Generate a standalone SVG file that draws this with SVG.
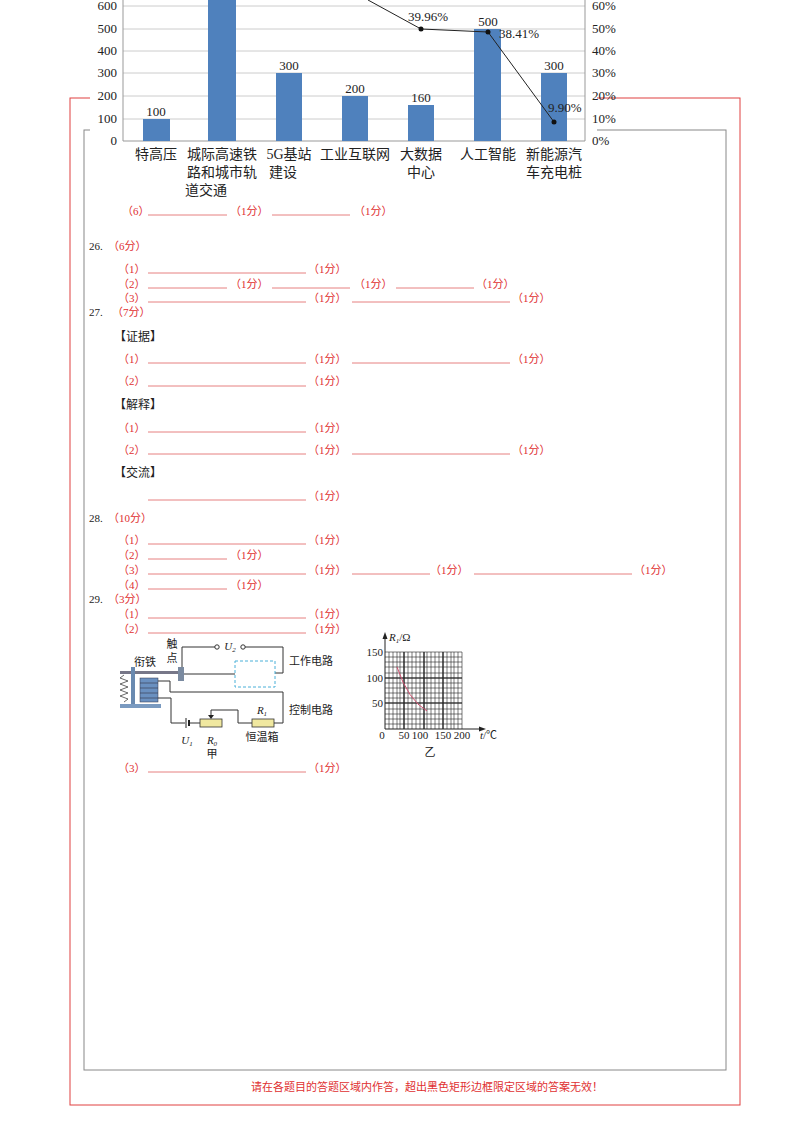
<svg xmlns="http://www.w3.org/2000/svg" width="800" height="1132" viewBox="0 0 800 1132">
<style>
text{font-family:"Liberation Serif","Noto Sans CJK SC",serif;}
.r{fill:#e03030;font-size:11px;}
.k{fill:#222;font-size:11px;}
.b{stroke:#e06060;stroke-width:0.8;}
.ax{font-family:"Liberation Serif","Noto Sans CJK SC",serif;font-size:13px;fill:#222;}
.cat{font-family:"Noto Sans CJK SC",sans-serif;font-size:14px;fill:#222;}
.bar{fill:#4f81bd;}
.w{stroke:#333;stroke-width:1;fill:none;}
.c{font-size:11px;fill:#222;}
</style>
<rect width="800" height="1132" fill="#fff"/>
<g id="frames">
<rect x="70" y="98" width="670" height="1007" fill="none" stroke="#e04040" stroke-width="1"/>
<rect x="84" y="130" width="642" height="940" fill="none" stroke="#888" stroke-width="1"/>
</g>
<g id="chart">
<rect x="90" y="0" width="507" height="200" fill="#fff"/>
<g stroke="#ccc" stroke-width="1">
<line x1="123" y1="6" x2="585" y2="6"/><line x1="123" y1="29" x2="585" y2="29"/><line x1="123" y1="51" x2="585" y2="51"/><line x1="123" y1="73" x2="585" y2="73"/><line x1="123" y1="96" x2="585" y2="96"/><line x1="123" y1="119" x2="585" y2="119"/>
</g>
<line x1="123" y1="0" x2="123" y2="141" stroke="#999"/><line x1="585" y1="0" x2="585" y2="141" stroke="#999"/><line x1="123" y1="141" x2="585" y2="141" stroke="#999"/>
<g class="ax" text-anchor="end">
<text x="117" y="10">600</text><text x="117" y="33">500</text><text x="117" y="55">400</text><text x="117" y="77">300</text><text x="117" y="100">200</text><text x="117" y="123">100</text><text x="117" y="145">0</text>
</g>
<g class="ax">
<text x="592" y="10">60%</text><text x="592" y="33">50%</text><text x="592" y="55">40%</text><text x="592" y="77">30%</text><text x="592" y="100">20%</text><text x="592" y="123">10%</text><text x="592" y="145">0%</text>
</g>
<rect class="bar" x="143" y="119" width="27" height="22"/>
<rect class="bar" x="208" y="0" width="28" height="141"/>
<rect class="bar" x="276" y="73" width="26" height="68"/>
<rect class="bar" x="342" y="96" width="26" height="45"/>
<rect class="bar" x="408" y="105" width="26" height="36"/>
<rect class="bar" x="474" y="29" width="27" height="112"/>
<rect class="bar" x="541" y="73" width="26" height="68"/>
<g class="ax" text-anchor="middle">
<text x="156" y="116">100</text><text x="289" y="70">300</text><text x="355" y="93">200</text><text x="421" y="102">160</text><text x="488" y="26">500</text><text x="554" y="70">300</text>
</g>
<polyline points="368,0 421,29 488,32 554,122" fill="none" stroke="#222" stroke-width="1"/>
<circle cx="421" cy="29" r="2.5" fill="#111"/><circle cx="488" cy="32" r="2.5" fill="#111"/><circle cx="554" cy="122" r="2.5" fill="#111"/>
<g class="ax"><text x="408" y="21">39.96%</text><text x="499" y="38">38.41%</text><text x="548" y="112">9.90%</text></g>
<g class="cat" text-anchor="middle">
<text x="156" y="159">特高压</text>
<text x="222" y="159">城际高速铁</text><text x="222" y="177">路和城市轨</text><text x="185" y="195" text-anchor="start">道交通</text>
<text x="289" y="159">5G基站</text><text x="283" y="177">建设</text>
<text x="355" y="159">工业互联网</text>
<text x="421" y="159">大数据</text><text x="421" y="177">中心</text>
<text x="488" y="159">人工智能</text>
<text x="554" y="159">新能源汽</text><text x="554" y="177">车充电桩</text>
</g>
</g>
<g id="answers">
<g class="b">
<line x1="148" y1="215" x2="227" y2="215"/><line x1="272" y1="215" x2="350" y2="215"/>
<line x1="148" y1="273" x2="306" y2="273"/>
<line x1="148" y1="288" x2="227" y2="288"/><line x1="272" y1="288" x2="350" y2="288"/><line x1="396" y1="288" x2="474" y2="288"/>
<line x1="148" y1="302" x2="306" y2="302"/><line x1="352" y1="302" x2="510" y2="302"/>
<line x1="148" y1="363" x2="306" y2="363"/><line x1="352" y1="363" x2="510" y2="363"/>
<line x1="148" y1="386" x2="306" y2="386"/>
<line x1="148" y1="432" x2="306" y2="432"/>
<line x1="148" y1="454" x2="306" y2="454"/><line x1="352" y1="454" x2="510" y2="454"/>
<line x1="148" y1="500" x2="306" y2="500"/>
<line x1="148" y1="544" x2="306" y2="544"/>
<line x1="148" y1="559" x2="227" y2="559"/>
<line x1="148" y1="574" x2="306" y2="574"/><line x1="352" y1="574" x2="430" y2="574"/><line x1="474" y1="574" x2="632" y2="574"/>
<line x1="148" y1="589" x2="227" y2="589"/>
<line x1="148" y1="618" x2="306" y2="618"/>
<line x1="148" y1="633" x2="306" y2="633"/>
<line x1="148" y1="772" x2="306" y2="772"/>
</g>
<g class="r">
<text x="122" y="215">（6）</text><text x="230" y="215">（1分）</text><text x="354" y="215">（1分）</text>
<text x="108" y="250">（6分）</text>
<text x="118" y="273">（1）</text><text x="308" y="273">（1分）</text>
<text x="118" y="288">（2）</text><text x="230" y="288">（1分）</text><text x="354" y="288">（1分）</text><text x="476" y="288">（1分）</text>
<text x="118" y="302">（3）</text><text x="308" y="302">（1分）</text><text x="512" y="302">（1分）</text>
<text x="112" y="316">（7分）</text>
<text x="118" y="363">（1）</text><text x="308" y="363">（1分）</text><text x="512" y="363">（1分）</text>
<text x="118" y="385">（2）</text><text x="308" y="385">（1分）</text>
<text x="118" y="432">（1）</text><text x="308" y="432">（1分）</text>
<text x="118" y="454">（2）</text><text x="308" y="454">（1分）</text><text x="512" y="454">（1分）</text>
<text x="308" y="500">（1分）</text>
<text x="108" y="522">（10分）</text>
<text x="118" y="544">（1）</text><text x="308" y="544">（1分）</text>
<text x="118" y="559">（2）</text><text x="230" y="559">（1分）</text>
<text x="118" y="574">（3）</text><text x="308" y="574">（1分）</text><text x="430" y="574">（1分）</text><text x="634" y="574">（1分）</text>
<text x="118" y="589">（4）</text><text x="230" y="589">（1分）</text>
<text x="108" y="603">（3分）</text>
<text x="118" y="618">（1）</text><text x="308" y="618">（1分）</text>
<text x="118" y="633">（2）</text><text x="308" y="633">（1分）</text>
<text x="118" y="772">（3）</text><text x="308" y="772">（1分）</text>
</g>
<g class="k">
<text x="89" y="250">26.</text><text x="89" y="316">27.</text><text x="89" y="522">28.</text><text x="89" y="603">29.</text>
<text x="114" y="341" font-size="12">【证据】</text>
<text x="114" y="409" font-size="12">【解释】</text>
<text x="114" y="477" font-size="12">【交流】</text>
</g>
</g>
<g id="circuit">
<g class="w">
<polyline points="182,668 182,647 215,647"/>
<polyline points="245,647 283,647 283,673 275,673"/>
<line x1="183" y1="674" x2="235" y2="674"/>
<polyline points="158,681 170,681 170,692 283,692 283,723 274,723"/>
<polyline points="252,723 238,723 238,710 211,710 211,717"/>
<line x1="190" y1="723" x2="200" y2="723"/>
<polyline points="185,723 171,723 171,698 158,698"/>
</g>
<circle cx="217" cy="647" r="2.2" fill="#fff" stroke="#333"/><circle cx="243" cy="647" r="2.2" fill="#fff" stroke="#333"/>
<rect x="235" y="661" width="40" height="26" fill="none" stroke="#4ab0d8" stroke-dasharray="3,2"/>
<rect x="120" y="671" width="63" height="3" fill="#778"/>
<rect x="178" y="667" width="6" height="14" fill="#7a8aa0"/>
<rect x="131" y="667" width="4" height="38" fill="#6a8ab0"/>
<rect x="140" y="678" width="18" height="24" fill="#6a90c0" stroke="#334" stroke-width="0.5"/>
<g stroke="#334" stroke-width="0.6"><line x1="140" y1="683" x2="158" y2="683"/><line x1="140" y1="688" x2="158" y2="688"/><line x1="140" y1="693" x2="158" y2="693"/><line x1="140" y1="698" x2="158" y2="698"/></g>
<polyline points="124,675 120,678 128,681 120,684 128,687 120,690 128,693 120,696 128,699 124,702" fill="none" stroke="#444" stroke-width="0.8"/>
<rect x="120" y="704" width="41" height="4" fill="#7a9ac0"/>
<line x1="186" y1="718" x2="186" y2="728" stroke="#222"/><line x1="189" y1="720" x2="189" y2="726" stroke="#222" stroke-width="2"/>
<rect x="200" y="719" width="22" height="8" fill="#f0e8a0" stroke="#333" stroke-width="0.8"/>
<path d="M208,715 L211,719 L214,715Z" fill="#222"/>
<rect x="252" y="719" width="22" height="8" fill="#f0e8a0" stroke="#333" stroke-width="0.8"/>
<g class="c" text-anchor="middle">
<text x="172" y="648">触</text><text x="172" y="662">点</text>
<text x="145" y="666">衔铁</text>
<text x="230" y="650" font-style="italic">U<tspan font-size="7" dy="2">2</tspan></text>
<text x="187" y="744" font-style="italic">U<tspan font-size="7" dy="2">1</tspan></text>
<text x="212" y="744" font-style="italic">R<tspan font-size="7" dy="2">0</tspan></text>
<text x="212" y="758">甲</text>
<text x="262" y="714" font-style="italic">R<tspan font-size="7" dy="2">1</tspan></text>
<text x="262" y="741">恒温箱</text>
</g>
<text class="c" x="289" y="665">工作电路</text>
<text class="c" x="289" y="714">控制电路</text>
</g>
<g id="graph">
<g stroke="#222" stroke-width="0.6">
<line x1="385" y1="652" x2="462" y2="652"/><line x1="385" y1="657" x2="462" y2="657"/><line x1="385" y1="662" x2="462" y2="662"/><line x1="385" y1="667" x2="462" y2="667"/><line x1="385" y1="673" x2="462" y2="673"/><line x1="385" y1="678" x2="462" y2="678"/><line x1="385" y1="683" x2="462" y2="683"/><line x1="385" y1="688" x2="462" y2="688"/><line x1="385" y1="693" x2="462" y2="693"/><line x1="385" y1="698" x2="462" y2="698"/><line x1="385" y1="703" x2="462" y2="703"/><line x1="385" y1="709" x2="462" y2="709"/><line x1="385" y1="714" x2="462" y2="714"/><line x1="385" y1="719" x2="462" y2="719"/><line x1="385" y1="724" x2="462" y2="724"/>
<line x1="389" y1="652" x2="389" y2="729"/><line x1="393" y1="652" x2="393" y2="729"/><line x1="397" y1="652" x2="397" y2="729"/><line x1="400" y1="652" x2="400" y2="729"/><line x1="404" y1="652" x2="404" y2="729"/><line x1="408" y1="652" x2="408" y2="729"/><line x1="412" y1="652" x2="412" y2="729"/><line x1="416" y1="652" x2="416" y2="729"/><line x1="420" y1="652" x2="420" y2="729"/><line x1="424" y1="652" x2="424" y2="729"/><line x1="427" y1="652" x2="427" y2="729"/><line x1="431" y1="652" x2="431" y2="729"/><line x1="435" y1="652" x2="435" y2="729"/><line x1="439" y1="652" x2="439" y2="729"/><line x1="443" y1="652" x2="443" y2="729"/><line x1="447" y1="652" x2="447" y2="729"/><line x1="451" y1="652" x2="451" y2="729"/><line x1="454" y1="652" x2="454" y2="729"/><line x1="458" y1="652" x2="458" y2="729"/><line x1="462" y1="652" x2="462" y2="729"/>
</g>
<g stroke="#222" stroke-width="1.2"><line x1="385" y1="678" x2="462" y2="678"/><line x1="385" y1="703" x2="462" y2="703"/><line x1="404" y1="652" x2="404" y2="729"/><line x1="424" y1="652" x2="424" y2="729"/><line x1="443" y1="652" x2="443" y2="729"/></g>
<line x1="385" y1="729" x2="482" y2="729" stroke="#222"/><path d="M486,729 L479,726.5 L479,731.5Z" fill="#222"/>
<line x1="385" y1="729" x2="385" y2="636" stroke="#222"/><path d="M385,632 L382.5,639 L387.5,639Z" fill="#222"/>
<path d="M397,667 Q408,700 427,711" fill="none" stroke="#d05070" stroke-width="1"/>
<g class="c">
<text x="389" y="641" font-style="italic">R<tspan font-size="7" dy="2">1</tspan><tspan dy="-2" font-style="normal">/Ω</tspan></text>
<text x="383" y="656" text-anchor="end">150</text><text x="383" y="682" text-anchor="end">100</text><text x="383" y="707" text-anchor="end">50</text>
<text x="382" y="739" text-anchor="middle">0</text>
<text x="404" y="739" text-anchor="middle">50</text><text x="420" y="739" text-anchor="middle">100</text><text x="443" y="739" text-anchor="middle">150</text><text x="462" y="739" text-anchor="middle">200</text>
<text x="480" y="739" font-style="italic">t<tspan font-style="normal">/℃</tspan></text>
<text x="430" y="756" text-anchor="middle">乙</text>
</g>
</g>
<text x="427" y="1091" text-anchor="middle" class="r">请在各题目的答题区域内作答，超出黑色矩形边框限定区域的答案无效！</text>
</svg>
